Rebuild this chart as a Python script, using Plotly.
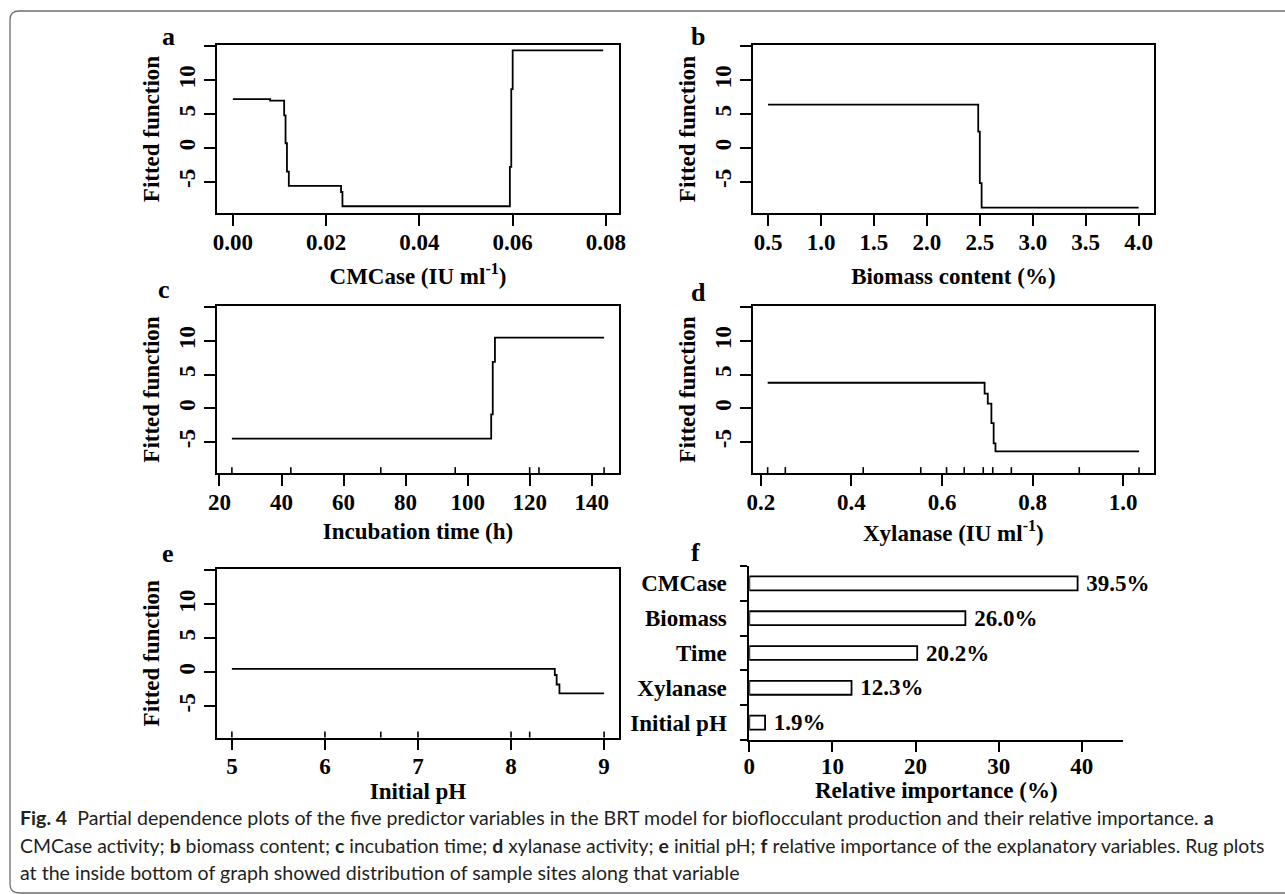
import plotly.graph_objects as go

W, H = 1285, 894

# ---------------- data ----------------
# a: CMCase
cmcase_x = [0.0, 0.0080, 0.0110, 0.0113, 0.0116, 0.0120, 0.0232, 0.0235, 0.0594, 0.0597, 0.0600, 0.0794]
cmcase_y = [7.2, 7.0, 4.8, 0.7, -3.5, -5.6, -6.5, -8.6, -2.8, 8.7, 14.4, 14.4]
cmcase_ticks = [0.00, 0.02, 0.04, 0.06, 0.08]
cmcase_ticktext = ["0.00", "0.02", "0.04", "0.06", "0.08"]

# b: Biomass content
biomass_x = [0.5, 2.485, 2.50, 2.517, 4.0]
biomass_y = [6.4, 2.4, -5.2, -8.8, -8.8]
biomass_ticks = [0.5, 1.0, 1.5, 2.0, 2.5, 3.0, 3.5, 4.0]
biomass_ticktext = ["0.5", "1.0", "1.5", "2.0", "2.5", "3.0", "3.5", "4.0"]

# c: Incubation time
time_x = [24, 107.6, 108.1, 108.8, 144]
time_y = [-4.5, -0.9, 6.9, 10.5, 10.5]
time_ticks = [20, 40, 60, 80, 100, 120, 140]
time_rug = [24, 43, 72, 96, 120, 123, 144]

# d: Xylanase
xyl_x = [0.215, 0.694, 0.701, 0.709, 0.714, 0.718, 1.035]
xyl_y = [3.8, 2.2, 0.7, -2.2, -5.2, -6.4, -6.4]
xyl_ticks = [0.2, 0.4, 0.6, 0.8, 1.0]
xyl_ticktext = ["0.2", "0.4", "0.6", "0.8", "1.0"]
xyl_rug = [0.215, 0.254, 0.426, 0.553, 0.610, 0.649, 0.691, 0.712, 0.753, 0.903, 1.035]

# e: Initial pH
ph_x = [5.0, 8.47, 8.49, 8.52, 9.0]
ph_y = [0.5, -0.4, -1.8, -3.1, -3.1]
ph_ticks = [5, 6, 7, 8, 9]
ph_rug = [5, 6, 6.6, 7, 8, 8.2, 9]

# f: relative importance
imp_vars = ["Initial pH", "Xylanase", "Time", "Biomass", "CMCase"]
imp_vals = [1.9, 12.3, 20.2, 26.0, 39.5]
imp_ticks = [0, 10, 20, 30, 40]

# shared y axis for partial dependence
pd_yticks = [-5, 0, 5, 10, 15]
pd_yticktext = ["-5", "0", "5", "10", ""]
pd_yrange = [-9.6, 15.2]

# ---------------- layout helpers ----------------
def fx(px):
    return px / W

def fy(py):
    return 1 - py / H

SERIF = "Liberation Serif, Times New Roman, serif"
FS = 23

fig = go.Figure()

panels = [
    dict(n=1, x=cmcase_x, y=cmcase_y, tv=cmcase_ticks, tt=cmcase_ticktext,
         xr=[-0.0034, 0.0828], title="CMCase (IU ml<sup>-1</sup>)",
         box=(217, 619, 45, 213), letter="a", lpos=(168, 37), rug=None, tstand=14),
    dict(n=2, x=biomass_x, y=biomass_y, tv=biomass_ticks, tt=biomass_ticktext,
         xr=[0.355, 4.145], title="Biomass content (%)",
         box=(752.7, 1154, 45, 213), letter="b", lpos=(698, 37), rug=None, tstand=14),
    dict(n=3, x=time_x, y=time_y, tv=time_ticks, tt=[str(v) for v in time_ticks],
         xr=[19.2, 148.8], title="Incubation time (h)",
         box=(217, 619, 306, 473), letter="c", lpos=(164, 289), rug=time_rug, tstand=9),
    dict(n=4, x=xyl_x, y=xyl_y, tv=xyl_ticks, tt=xyl_ticktext,
         xr=[0.182, 1.068], title="Xylanase (IU ml<sup>-1</sup>)",
         box=(752.7, 1154, 306, 473), letter="d", lpos=(698, 292), rug=xyl_rug, tstand=11),
    dict(n=5, x=ph_x, y=ph_y, tv=ph_ticks, tt=[str(v) for v in ph_ticks],
         xr=[4.84, 9.16], title="Initial pH",
         box=(217, 619, 569, 737.5), letter="e", lpos=(168, 553), rug=ph_rug, tstand=5),
]

annotations = []
shapes = []

for p in panels:
    n = p["n"]
    xa = "x" if n == 1 else f"x{n}"
    ya = "y" if n == 1 else f"y{n}"
    fig.add_trace(go.Scatter(
        x=p["x"], y=p["y"], mode="lines", line=dict(shape="hv", color="black", width=1.8),
        xaxis=xa, yaxis=ya, showlegend=False, hoverinfo="skip"))
    x0, x1, y0, y1 = p["box"]
    xkey = "xaxis" if n == 1 else f"xaxis{n}"
    ykey = "yaxis" if n == 1 else f"yaxis{n}"
    fig.update_layout(**{
        xkey: dict(domain=[fx(x0), fx(x1)], range=p["xr"], anchor=ya, automargin=False,
                   tickmode="array", tickvals=p["tv"], ticktext=p["tt"],
                   ticks="outside", ticklen=11, tickwidth=1.6, tickcolor="black",
                   showline=True, linecolor="black", linewidth=1.8, mirror=True,
                   showgrid=False, zeroline=False,
                   tickfont=dict(family=SERIF, size=FS, color="black", weight="bold"),
                   ticklabelstandoff=-4,
                   title=dict(text="<b>" + p["title"] + "</b>", standoff=p["tstand"],
                              font=dict(family=SERIF, size=FS, color="black"))),
        ykey: dict(domain=[fy(y1), fy(y0)], range=pd_yrange, anchor=xa, automargin=False,
                   tickmode="array", tickvals=pd_yticks, ticktext=pd_yticktext,
                   ticks="outside", ticklen=11, tickwidth=1.6, tickcolor="black",
                   tickangle=-90,
                   showline=True, linecolor="black", linewidth=1.8, mirror=True,
                   showgrid=False, zeroline=False,
                   tickfont=dict(family=SERIF, size=FS, color="black", weight="bold"),
                   ticklabelstandoff=0,
                   title=dict(text="<b>Fitted function</b>", standoff=9,
                              font=dict(family=SERIF, size=FS, color="black"))),
    })
    annotations.append(dict(text="<b>" + p["letter"] + "</b>", x=fx(p["lpos"][0]), y=fy(p["lpos"][1]),
                            xref="paper", yref="paper", showarrow=False,
                            font=dict(family=SERIF, size=26, color="black"),
                            xanchor="center", yanchor="middle"))
    if p["rug"]:
        for r in p["rug"]:
            shapes.append(dict(type="line", xref=xa, yref=ya + " domain",
                               x0=r, x1=r, y0=0, y1=0.035,
                               line=dict(color="black", width=1.6)))

# ---------------- panel f ----------------
fig.add_trace(go.Bar(
    y=list(range(len(imp_vars))), x=imp_vals, orientation="h", width=0.4,
    marker=dict(color="white", line=dict(color="black", width=1.8)),
    text=[f"\u00a0{v:.1f}%" for v in imp_vals], textposition="outside",
    textfont=dict(family=SERIF, size=FS, color="black", weight="bold"),
    constraintext="none", cliponaxis=False,
    xaxis="x6", yaxis="y6", showlegend=False, hoverinfo="skip"))

fig.update_layout(
    xaxis6=dict(domain=[fx(749.3), fx(1123.3)], range=[0, 45], anchor="y6", automargin=False,
                tickmode="array", tickvals=imp_ticks, ticktext=[str(v) for v in imp_ticks],
                ticks="outside", ticklen=10, tickwidth=1.6, tickcolor="black",
                showline=True, linecolor="black", linewidth=1.8, mirror=False,
                showgrid=False, zeroline=False,
                tickfont=dict(family=SERIF, size=FS, color="black", weight="bold"),
                ticklabelstandoff=-6,
                title=dict(text="<b>Relative importance (%)</b>", standoff=4,
                           font=dict(family=SERIF, size=FS, color="black"))),
    yaxis6=dict(domain=[fy(740), fy(566)], range=[-0.5, len(imp_vars) - 0.5], anchor="x6",
                automargin=False,
                tickmode="array", tickvals=list(range(len(imp_vars))), ticktext=imp_vars,
                ticks="", showline=True, linecolor="black", linewidth=1.8,
                showgrid=False, zeroline=False,
                minor=dict(tickmode="array",
                           tickvals=[i - 0.5 for i in range(len(imp_vars) + 1)],
                           ticks="outside", ticklen=7, tickwidth=1.6, tickcolor="black",
                           showgrid=False),
                tickfont=dict(family=SERIF, size=FS, color="black", weight="bold"),
                ticklabelstandoff=16),
)
annotations.append(dict(text="<b>f</b>", x=fx(695), y=fy(552), xref="paper", yref="paper",
                        showarrow=False, font=dict(family=SERIF, size=26, color="black"),
                        xanchor="center", yanchor="middle"))

# ---------------- caption ----------------
SANS = "Lato, Open Sans, sans-serif"
cap_lines = [
    "<b>Fig. 4</b>  Partial dependence plots of the five predictor variables in the BRT model for bioflocculant production and their relative importance. <b>a</b>",
    "CMCase activity; <b>b</b> biomass content; <b>c</b> incubation time; <b>d</b> xylanase activity; <b>e</b> initial pH; <b>f</b> relative importance of the explanatory variables. Rug plots",
    "at the inside bottom of graph showed distribution of sample sites along that variable",
]
cap_y = [817, 845, 872]
cap_size = [19.6, 19.4, 19.6]
for t, yy, sz in zip(cap_lines, cap_y, cap_size):
    annotations.append(dict(text=t, x=fx(18), y=fy(yy), xref="paper", yref="paper",
                            showarrow=False, xanchor="left", yanchor="middle",
                            font=dict(family=SANS, size=sz, color="#231f20")))

# card border (rounded top-left / bottom-left)
border = (f"M {fx(1285)},{fy(11)} L {fx(19)},{fy(11)} Q {fx(10)},{fy(11)} {fx(10)},{fy(20)} "
          f"L {fx(10)},{fy(884)} Q {fx(10)},{fy(893)} {fx(19)},{fy(893)} L {fx(1285)},{fy(893)}")
shapes.append(dict(type="path", xref="paper", yref="paper", path=border,
                   line=dict(color="#6d6e71", width=1.3)))

fig.update_layout(
    width=W, height=H, margin=dict(l=0, r=0, t=0, b=0, autoexpand=False),
    paper_bgcolor="white", plot_bgcolor="white",
    annotations=annotations, shapes=shapes,
    bargap=0.6,
)

fig.write_html("out.html", config={"displayModeBar": False},
               post_script="document.body.style.margin='0';document.body.style.overflow='hidden';")
